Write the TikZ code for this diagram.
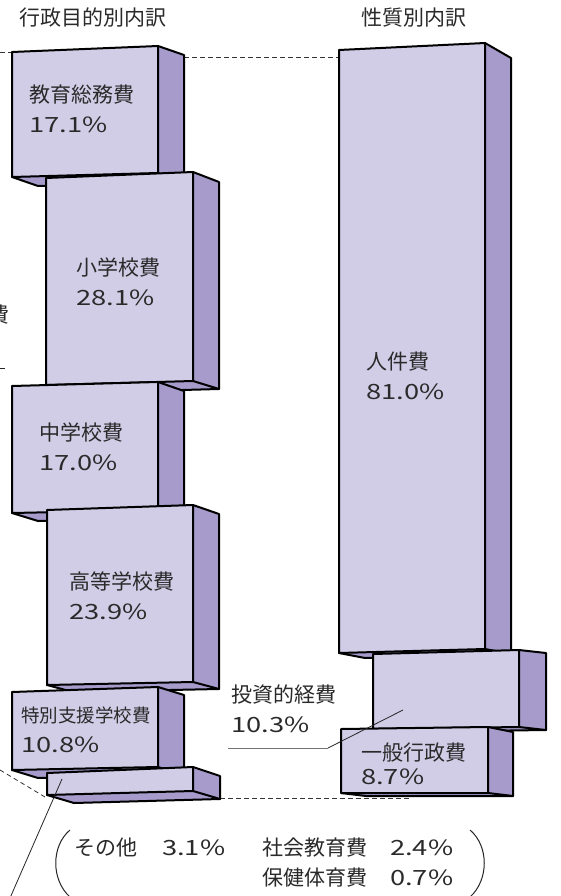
\documentclass[tikz,border=0pt]{standalone}
\usepackage{fontspec}
\setmainfont{Noto Sans CJK JP}
\newfontfamily\pctfont[FakeStretch=1.3]{Noto Sans CJK JP}
\definecolor{frontc}{HTML}{D1CDE7}
\definecolor{sidec}{HTML}{A69BCB}
\definecolor{txtc}{HTML}{2A2A2A}
\newcommand\lblfont{\fontsize{21}{30}\selectfont}
\newcommand\tightfont{\fontsize{21}{24}\selectfont}
\newcommand\smallfont{\fontsize{18.5}{30}\selectfont}
\newcommand\pc[1]{{\pctfont #1}}
% x1,x2,yTL,yTR,yBL,yBR,dx,dyTop,dyBottom
\newcommand\cuboid[9]{%
  \fill[boxside] (#2,#4) -- ({#2+#7},{#4+#8}) -- ({#2+#7},{#6+#9}) -- (#2,#6) -- cycle;
  \fill[boxside] (#1,#5) -- (#2,#6) -- ({#2+#7},{#6+#9}) -- ({#1+#7},{#5+#9}) -- cycle;
  \fill[boxfront] (#1,#3) -- (#2,#4) -- (#2,#6) -- (#1,#5) -- cycle;
  \draw[boxedge] (#2,#4) -- ({#2+#7},{#4+#8}) -- ({#2+#7},{#6+#9}) -- (#2,#6);
  \draw[boxedge] (#1,#5) -- ({#1+#7},{#5+#9}) -- ({#2+#7},{#6+#9});
  \draw[boxedge] (#1,#3) -- (#2,#4) -- (#2,#6) -- (#1,#5) -- cycle;
}
\tikzset{
  boxfront/.style={fill=frontc},
  boxside/.style={fill=sidec},
  boxedge/.style={draw=black, line width=2pt, line join=round},
  lbl/.style={anchor=north west, inner sep=0pt, align=left, text=txtc, font=\lblfont},
  dashline/.style={draw=black!80, line width=0.8pt, dash pattern=on 4.5pt off 3.5pt},
  leader/.style={draw=black!85, line width=0.8pt},
  grayleader/.style={draw=black!55, line width=1pt},
  paren/.style={draw=black!85, line width=1pt}
}
\begin{document}
\begin{tikzpicture}[x=1pt,y=-1pt]
\useasboundingbox (0,0) rectangle (560,896);
\fill[white] (0,0) rectangle (560,896);

% titles
\node[lbl] (title1) at (19,8) {行政目的別内訳};
\node[lbl] (title2) at (361,8) {性質別内訳};

% remnants of the neighbouring chart on the left
\node[lbl, anchor=center] (cutchar) at (-1,315) {費};
\coordinate (cutA) at (0,368);
\coordinate (cutB) at (5,368);
\draw[leader] (cutA) -- (cutB);

% dashed guide lines
\coordinate (dA1) at (0,52);   \coordinate (dA2) at (12,52);
\coordinate (dB1) at (184,57); \coordinate (dB2) at (339,57);
\coordinate (dC1) at (220,798); \coordinate (dC2) at (410,798);
\coordinate (dD1) at (0,770);  \coordinate (dD2) at (45,797);
\draw[dashline] (dA1) -- (dA2);
\draw[dashline] (dB1) -- (dB2);
\draw[dashline] (dC1) -- (dC2);
\draw[dashline] (dD1) -- (dD2);

% left column
\cuboid{12}{158}{52}{46}{177}{173}{26}{9}{9}
\cuboid{46}{193}{178}{172}{385}{381}{26}{10}{8}
\cuboid{12}{158}{386}{382}{513}{510}{26}{9}{8}
\cuboid{47}{193}{510}{505}{685}{682}{26}{9}{7}
\cuboid{12}{158}{692}{687}{770}{767}{26}{8}{8}
\cuboid{47}{193}{773}{767}{795}{791}{27}{9}{8}

% right column
\cuboid{339}{485}{50}{43}{653}{649}{26}{15}{5}
\cuboid{373}{519}{654}{650}{729}{727}{27}{3}{3}
\cuboid{341}{488}{729}{727}{793}{793}{25}{5}{3}

% labels
\node[lbl] (kyoiku) at (29,85) {教育総務費\\\pc{17.1\%}};
\node[lbl] (shogakko) at (76,258) {小学校費\\\pc{28.1\%}};
\node[lbl] (chugakko) at (39,423) {中学校費\\\pc{17.0\%}};
\node[lbl] (koto) at (69,572) {高等学校費\\\pc{23.9\%}};
\node[lbl, font=\smallfont] (tokubetsu) at (21,707) {特別支援学校費\\\fontsize{21}{30}\selectfont\pc{10.8\%}};
\node[lbl] (jinken) at (366,352) {人件費\\\pc{81.0\%}};
\node[lbl] (toshi) at (231,685) {投資的経費\\\pc{10.3\%}};
\node[lbl, font=\tightfont] (ippan) at (361,743) {一般行政費\\\pc{8.7\%}};

% bottom note
\node[lbl] (sonota) at (74,838) {\makebox[88pt][l]{その他}\pc{3.1\%}};
\node[lbl] (shakai) at (262,838) {\makebox[128pt][l]{社会教育費}\pc{2.4\%}};
\node[lbl] (hoken) at (262,868) {\makebox[128pt][l]{保健体育費}\pc{0.7\%}};
\draw[paren] (70,830) .. controls (51,846) and (51,880) .. (70,897);
\draw[paren] (470,830) .. controls (489,846) and (489,880) .. (470,897);

% leader lines
\coordinate (othIn) at (62,779);
\coordinate (othOut) at (10,898);
\draw[leader] (othIn) -- (othOut);
\coordinate (invIn) at (403,710);
\coordinate (invBend) at (328,748);
\coordinate (invEnd) at (228,748);
\draw[leader] (invIn) -- (invBend);
\draw[grayleader] (invBend) -- (invEnd);
\end{tikzpicture}
\end{document}
